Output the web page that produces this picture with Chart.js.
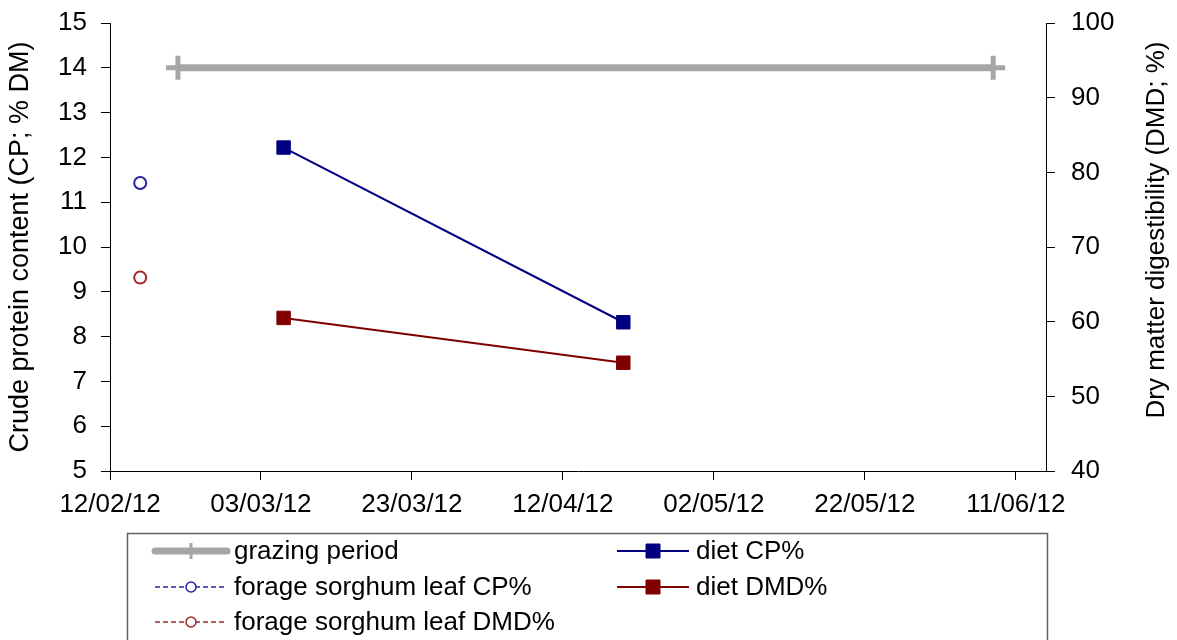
<!DOCTYPE html>
<html>
<head>
<meta charset="utf-8">
<script src="https://cdn.jsdelivr.net/npm/chart.js@4.4.1/dist/chart.umd.min.js"></script>
<style>
  html, body { margin: 0; padding: 0; background: #fff; }
  #wrap { width: 1177px; height: 640px; }
</style>
</head>
<body>
<div id="wrap"><canvas id="chart" width="1177" height="640"></canvas></div>
<script>
// x axis range (dates) and tick step in days
const axisStart = "2012-02-12";
const axisEnd = "2012-06-15";
const tickStepDays = 20;

const grazingDates = ["2012-02-21", "2012-06-08"];
const grazingValues = [14, 14];

const leafDates = ["2012-02-16"];
const leafCP = [11.43];
const leafDMD = [65.9];

const dietDates = ["2012-03-06", "2012-04-20"];
const dietCP = [12.22, 8.32];
const dietDMD = [60.5, 54.5];

const leftTitle = "Crude protein content (CP; % DM)";
const rightTitle = "Dry matter digestibility (DMD; %)";

const FONT = "'Liberation Sans', Arial, sans-serif";
const DAY = 86400000;
const t0 = Date.parse(axisStart + "T00:00:00Z");

function dayOf(s) {
  return (Date.parse(s + "T00:00:00Z") - t0) / DAY;
}

function fmtDate(v) {
  const d = new Date(t0 + v * DAY);
  const p = (n) => String(n).padStart(2, "0");
  return p(d.getUTCDate()) + "/" + p(d.getUTCMonth() + 1) + "/" + p(d.getUTCFullYear() % 100);
}

function points(dates, values) {
  return dates.map((d, i) => ({ x: dayOf(d), y: values[i] }));
}

const xMax = dayOf(axisEnd);
const xTicks = [];
for (let d = 0; d <= xMax; d += tickStepDays) xTicks.push(d);

// order = legend order (two columns, filled row by row)
const datasets = [
  {
    label: "grazing period",
    data: points(grazingDates, grazingValues),
    yAxisID: "y",
    borderColor: "#a6a6a6",
    backgroundColor: "#a6a6a6",
    borderWidth: 7,
    pointStyle: "cross",
    pointRadius: 12,
    pointBorderWidth: 5,
    pointBorderColor: "#a6a6a6",
    legend: { line: 7, dash: [], marker: "cross", r: 8, mw: 3, fill: "#a6a6a6" },
  },
  {
    label: "diet CP%",
    data: points(dietDates, dietCP),
    yAxisID: "y",
    borderColor: "#000080",
    backgroundColor: "#000080",
    borderWidth: 2,
    pointStyle: "rect",
    pointRadius: 9.5,
    pointBorderWidth: 1,
    pointBackgroundColor: "#000080",
    pointBorderColor: "#000080",
    legend: { line: 2, dash: [], marker: "rect", r: 7, mw: 1, fill: "#000080" },
  },
  {
    label: "forage sorghum leaf CP%",
    data: points(leafDates, leafCP),
    yAxisID: "y",
    borderColor: "#2424a4",
    borderWidth: 1.5,
    borderDash: [5, 4],
    pointStyle: "circle",
    pointRadius: 6,
    pointBorderWidth: 2,
    pointBackgroundColor: "#fff",
    pointBorderColor: "#2424a4",
    legend: { line: 1.5, dash: [5, 3], marker: "circle", r: 5, mw: 1.5, fill: "#fff" },
  },
  {
    label: "diet DMD%",
    data: points(dietDates, dietDMD),
    yAxisID: "y2",
    borderColor: "#800000",
    backgroundColor: "#800000",
    borderWidth: 2,
    pointStyle: "rect",
    pointRadius: 9.5,
    pointBorderWidth: 1,
    pointBackgroundColor: "#800000",
    pointBorderColor: "#800000",
    legend: { line: 2, dash: [], marker: "rect", r: 7, mw: 1, fill: "#800000" },
  },
  {
    label: "forage sorghum leaf DMD%",
    data: points(leafDates, leafDMD),
    yAxisID: "y2",
    borderColor: "#a42424",
    borderWidth: 1.5,
    borderDash: [5, 4],
    pointStyle: "circle",
    pointRadius: 6,
    pointBorderWidth: 2,
    pointBackgroundColor: "#fff",
    pointBorderColor: "#a42424",
    legend: { line: 1.5, dash: [5, 3], marker: "circle", r: 5, mw: 1.5, fill: "#fff" },
  },
];

function drawMarker(ctx, kind, x, y, r, color, fill, w) {
  ctx.save();
  ctx.setLineDash([]);
  ctx.strokeStyle = color;
  ctx.fillStyle = fill;
  ctx.lineWidth = w;
  ctx.beginPath();
  if (kind === "rect") {
    ctx.rect(x - r, y - r, 2 * r, 2 * r);
    ctx.fill();
    ctx.stroke();
  } else if (kind === "circle") {
    ctx.arc(x, y, r, 0, Math.PI * 2);
    ctx.fill();
    ctx.stroke();
  } else {
    ctx.moveTo(x, y - r);
    ctx.lineTo(x, y + r);
    ctx.stroke();
  }
  ctx.restore();
}

// right title (reads bottom-to-top) and the boxed legend
const extras = {
  id: "extras",
  afterDraw(chart) {
    const ctx = chart.ctx;
    ctx.save();
    ctx.translate(1157, 230);
    ctx.rotate(-Math.PI / 2);
    ctx.font = "26px " + FONT;
    ctx.fillStyle = "#000";
    ctx.textAlign = "center";
    ctx.textBaseline = "middle";
    ctx.fillText(rightTitle, 0, 0);
    ctx.restore();

    ctx.save();
    ctx.strokeStyle = "#606060";
    ctx.lineWidth = 1.5;
    ctx.strokeRect(127.5, 533.5, 920, 130);

    const colX = [155, 617];
    const rowY = [551, 587, 622];
    const symW = 72;
    ctx.font = "26px " + FONT;
    ctx.textBaseline = "middle";
    ctx.textAlign = "left";
    chart.data.datasets.forEach((ds, i) => {
      const lg = ds.legend;
      const x = colX[i % 2];
      const y = rowY[Math.floor(i / 2)];
      ctx.save();
      ctx.strokeStyle = ds.borderColor;
      ctx.lineWidth = lg.line;
      ctx.lineCap = lg.line > 3 ? "round" : "butt";
      ctx.setLineDash(lg.dash);
      ctx.beginPath();
      ctx.moveTo(x, y);
      ctx.lineTo(x + symW, y);
      ctx.stroke();
      ctx.restore();
      drawMarker(ctx, lg.marker, x + symW / 2, y, lg.r, ds.borderColor, lg.fill, lg.mw);
      ctx.fillStyle = "#000";
      ctx.fillText(ds.label, x + symW + 7, y + 1);
    });
    ctx.restore();
  },
};

const tickFont = { family: FONT, size: 26 };

// fixed axis sizes so the plot area lands where the original has it
function fixY(width) {
  return (s) => {
    s.width = width;
    s.paddingTop = 0;
    s.paddingBottom = 0;
  };
}

new Chart(document.getElementById("chart"), {
  type: "line",
  data: { datasets },
  options: {
    responsive: false,
    animation: false,
    events: [],
    layout: { autoPadding: false, padding: { top: 23, bottom: 119, left: 0, right: 0 } },
    plugins: { legend: { display: false }, tooltip: { enabled: false } },
    elements: { line: { tension: 0 } },
    scales: {
      x: {
        type: "linear",
        min: 0,
        max: xMax,
        afterBuildTicks: (s) => { s.ticks = xTicks.map((v) => ({ value: v })); },
        afterFit: (s) => { s.height = 50; },
        ticks: { callback: (v) => fmtDate(v), font: tickFont, color: "#000", padding: 9, maxRotation: 0, autoSkip: false },
        grid: { drawOnChartArea: false, drawTicks: true, tickLength: 9, color: "#000" },
        border: { color: "#000", width: 1 },
      },
      y: {
        position: "left",
        min: 5,
        max: 15,
        afterFit: fixY(110),
        ticks: { stepSize: 1, font: tickFont, color: "#000", padding: 14 },
        grid: { drawOnChartArea: false, drawTicks: true, tickLength: 9, color: "#000" },
        border: { color: "#000", width: 1 },
        title: { display: true, text: leftTitle, font: { family: FONT, size: 27 }, color: "#000", padding: { top: 4, bottom: 0 } },
      },
      y2: {
        position: "right",
        min: 40,
        max: 100,
        afterFit: fixY(131),
        ticks: { stepSize: 10, font: tickFont, color: "#000", padding: 16 },
        grid: { drawOnChartArea: false, drawTicks: true, tickLength: 9, color: "#000" },
        border: { color: "#000", width: 1 },
      },
    },
  },
  plugins: [extras],
});
</script>
</body>
</html>
